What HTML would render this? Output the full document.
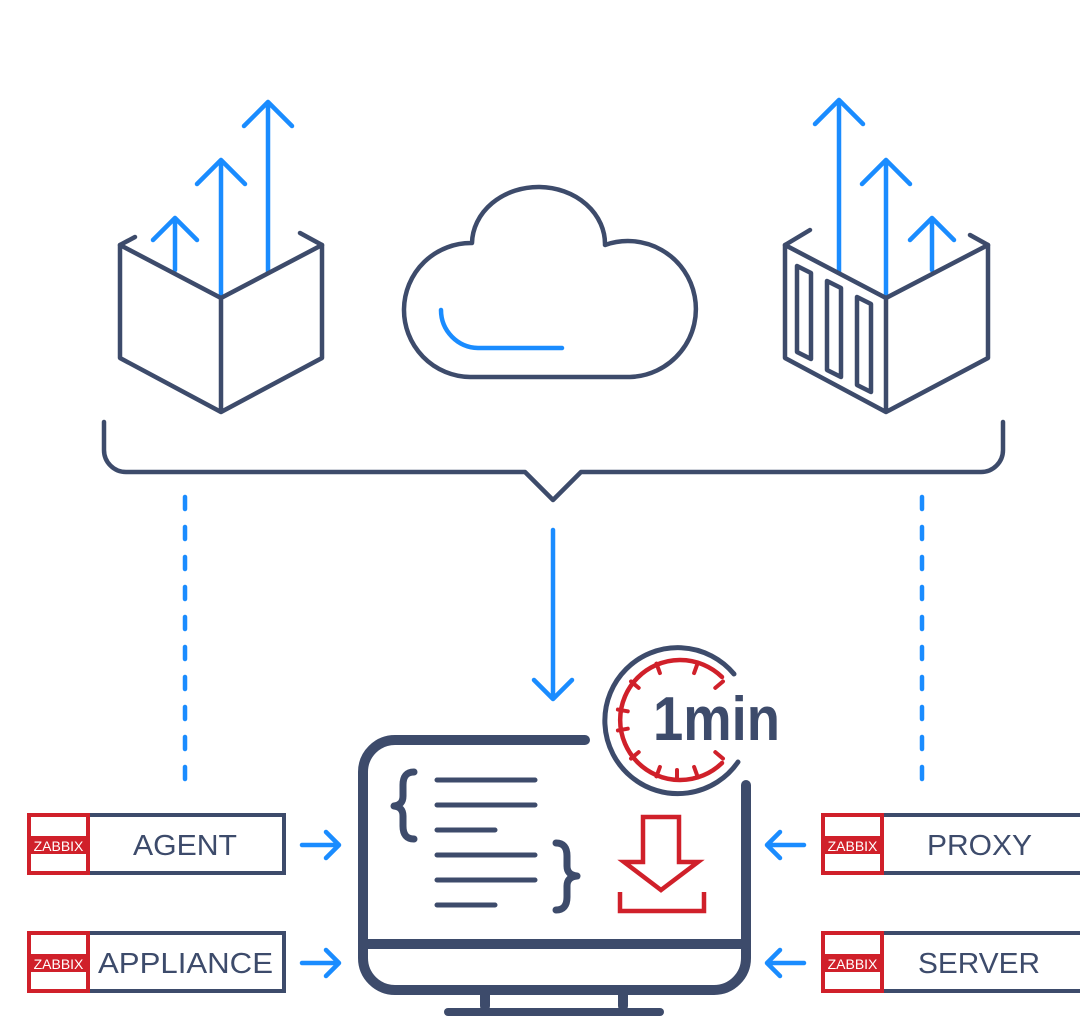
<!DOCTYPE html>
<html><head><meta charset="utf-8"><style>
html,body{margin:0;padding:0;background:#fff;}
svg{display:block;}
text{font-family:"Liberation Sans",sans-serif;}
</style></head><body>
<svg width="1080" height="1018" viewBox="0 0 1080 1018" xmlns="http://www.w3.org/2000/svg">
<g fill="none" stroke-linecap="round" stroke-linejoin="round">
<!-- left box -->
<g stroke="#1a8cff" stroke-width="4.5">
<path d="M175 270V218M153 240L175 218L197 240"/>
<path d="M221 296V160M197 184L221 160L245 184"/>
<path d="M268 272V102M244 126L268 102L292 126"/>
</g>
<g stroke="#3d4b6b" stroke-width="4.5">
<path d="M135 237L120 245L221 298L322 245L300 233"/>
<path d="M120 245V358L221 412L322 358V245M221 298V412"/>
</g>
<!-- right box -->
<g stroke="#1a8cff" stroke-width="4.5">
<path d="M839 272V100M815 124L839 100L863 124"/>
<path d="M886 296V160M862 184L886 160L910 184"/>
<path d="M932 270V218M910 240L932 218L954 240"/>
</g>
<g stroke="#3d4b6b" stroke-width="4.5">
<path d="M810 230L785 245L886 298L988 245L970 235"/>
<path d="M785 245V358L886 412L988 358V245M886 298V412"/>
<path d="M797 266L811 273V359L797 352Z"/>
<path d="M827 281L841 288V377L827 370Z"/>
<path d="M857 297L871 304V392L857 385Z"/>
</g>
<!-- cloud -->
<path d="M470 377A67 67 0 0 1 472 243A66.5 57 0 0 1 605 245A68 68 0 1 1 630 377Z" stroke="#3d4b6b" stroke-width="4.5"/>
<path d="M441 310A38 38 0 0 0 478 348H562" stroke="#1a8cff" stroke-width="4.5"/>
<!-- bracket -->
<path d="M104 422V450A22 22 0 0 0 126 472H525L553 500L581 472H981A22 22 0 0 0 1003 450V422" stroke="#3d4b6b" stroke-width="4.5"/>
<!-- dashes -->
<g stroke="#1a8cff" stroke-width="4.5" stroke-dasharray="12 18">
<path d="M185 497V795"/><path d="M922 497V795"/>
</g>
<path d="M553 530V698M534 680L553 699L572 680" stroke="#1a8cff" stroke-width="4.5"/>
<!-- monitor -->
<g stroke="#3d4b6b" stroke-width="10">
<path d="M585 740H395A32 32 0 0 0 363 772V958A32 32 0 0 0 395 990H714A32 32 0 0 0 746 958V785"/>
<path d="M363 944H746"/>
<path d="M485 990V1006M623 990V1006"/>
<path d="M448 1012H660" stroke-width="8"/>
</g>
<g stroke="#3d4b6b" stroke-width="5">
<path d="M437 780H535M437 805H535M437 830H495M437 855H535M437 880H535M437 905H495"/>
</g>
<g stroke="#3d4b6b" stroke-width="7">
<path d="M414 772Q403 772 403 785V796Q403 805 394 806Q403 807 403 816V826Q403 839 414 839"/>
<path d="M556 843Q567 843 567 856V866Q567 875 577 876Q567 877 567 886V897Q567 910 556 910"/>
</g>
<!-- download -->
<g stroke="#d0202a" stroke-width="4.5" stroke-linecap="butt" stroke-linejoin="miter">
<path d="M643 817H679V862H698L661 890L624 862H643Z"/>
<path d="M620 892V911H704V892"/>
</g>
<!-- clock -->
<path d="M734 674A73 73 0 1 0 738 762" stroke="#3d4b6b" stroke-width="5"/>
<path d="M722 677A60 60 0 1 0 722 763" stroke="#d0202a" stroke-width="4.5"/>
<g stroke="#d0202a" stroke-width="4" transform="translate(677,720)">
<path d="M0 -60V-50" transform="rotate(-20)"/><path d="M0 -60V-50" transform="rotate(20)"/>
<path d="M0 -60V-50" transform="rotate(-50)"/><path d="M0 -60V-50" transform="rotate(50)"/>
<path d="M0 -60V-50" transform="rotate(-80)"/><path d="M0 -60V-50" transform="rotate(-100)"/>
<path d="M0 -60V-50" transform="rotate(-130)"/><path d="M0 -60V-50" transform="rotate(130)"/>
<path d="M0 -60V-50" transform="rotate(160)"/><path d="M0 -60V-50" transform="rotate(-160)"/>
<path d="M0 -60V-50" transform="rotate(180)"/>
</g>
</g>
<text x="653" y="740" font-size="62" font-weight="bold" fill="#3d4b6b" textLength="127" lengthAdjust="spacingAndGlyphs">1min</text>
<!-- labels -->
<g>
<rect x="88" y="815" width="196" height="58" fill="#fff" stroke="#3d4b6b" stroke-width="4"/>
<rect x="29" y="815" width="59" height="58" fill="#fff" stroke="#d0202a" stroke-width="4"/>
<rect x="29" y="836" width="59" height="18" fill="#d0202a"/>
<text x="58.5" y="851" font-size="14" fill="#fff" text-anchor="middle">ZABBIX</text>
<text x="133" y="855" font-size="29" fill="#3d4b6b" textLength="104" lengthAdjust="spacingAndGlyphs">AGENT</text>

<rect x="88" y="933" width="196" height="58" fill="#fff" stroke="#3d4b6b" stroke-width="4"/>
<rect x="29" y="933" width="59" height="58" fill="#fff" stroke="#d0202a" stroke-width="4"/>
<rect x="29" y="954" width="59" height="18" fill="#d0202a"/>
<text x="58.5" y="969" font-size="14" fill="#fff" text-anchor="middle">ZABBIX</text>
<text x="98" y="973" font-size="29" fill="#3d4b6b" textLength="175" lengthAdjust="spacingAndGlyphs">APPLIANCE</text>

<rect x="882" y="815" width="200" height="58" fill="#fff" stroke="#3d4b6b" stroke-width="4"/>
<rect x="823" y="815" width="59" height="58" fill="#fff" stroke="#d0202a" stroke-width="4"/>
<rect x="823" y="836" width="59" height="18" fill="#d0202a"/>
<text x="852.5" y="851" font-size="14" fill="#fff" text-anchor="middle">ZABBIX</text>
<text x="927" y="855" font-size="29" fill="#3d4b6b" textLength="105" lengthAdjust="spacingAndGlyphs">PROXY</text>

<rect x="882" y="933" width="200" height="58" fill="#fff" stroke="#3d4b6b" stroke-width="4"/>
<rect x="823" y="933" width="59" height="58" fill="#fff" stroke="#d0202a" stroke-width="4"/>
<rect x="823" y="954" width="59" height="18" fill="#d0202a"/>
<text x="852.5" y="969" font-size="14" fill="#fff" text-anchor="middle">ZABBIX</text>
<text x="918" y="973" font-size="29" fill="#3d4b6b" textLength="122" lengthAdjust="spacingAndGlyphs">SERVER</text>
</g>
<g fill="none" stroke="#1a8cff" stroke-width="4.5" stroke-linecap="round" stroke-linejoin="round">
<path d="M302 845H338M326 832L339 845L326 858"/>
<path d="M302 963H338M326 950L339 963L326 976"/>
<path d="M804 845H768M780 832L767 845L780 858"/>
<path d="M804 963H768M780 950L767 963L780 976"/>
</g>
</svg>
</body></html>
